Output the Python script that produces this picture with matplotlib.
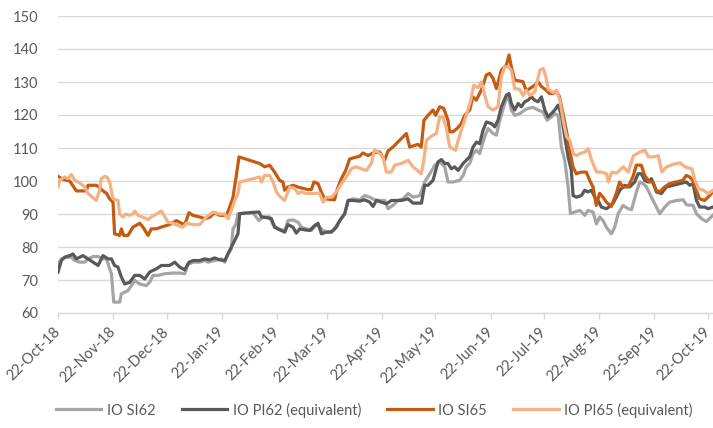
import matplotlib
matplotlib.use("Agg")
import matplotlib.pyplot as plt
import matplotlib.dates as mdates
import pandas as pd
import numpy as np

plt.rcParams['font.family'] = ['Lato', 'DejaVu Sans']

START = pd.Timestamp('2018-10-22')

# (days since 22-Oct-18, index value) per series
io_si62 = [(0,74.9),(1.9,76.4),(4.7,76.9),(7.5,76.9),(9.4,75.9),(12.2,75.4),(15.0,75.4),(16.9,76.4),(19.7,77.1),(22.5,77.1),
    (25.3,76.4),(27.2,76.4),(28.7,73.9),(30.0,71.9),(31.3,63.3),(32.8,63.3),(34.7,63.3),(35.6,65.8),(37.5,66.3),(39.3,66.8),
    (41.2,68.3),(43.1,69.8),(45.9,68.8),(49.6,68.3),(51.5,69.3),(53.4,71.4),(56.2,71.4),(59.9,71.9),(64.6,72.1),(68.4,72.1),
    (71.2,71.9),(73.0,74.7),(75.9,75.4),(79.6,75.4),(82.4,75.9),(84.3,75.4),(88.0,75.9),(91.8,76.4),(93.7,75.4),(95.5,77.9),
    (97.4,79.4),(98.3,85.5),(99.9,86.8),(101.1,90.1),(105.8,90.3),(109.6,90.3),(112.9,88.0),(115.2,89.1),(118.9,89.1),(120.8,86.8),
    (123.6,85.5),(127.4,85.0),(129.2,88.0),(132.0,88.2),(134.9,87.5),(136.7,86.0),(139.5,85.5),(142.4,85.0),(145.2,86.8),(147.0,86.0),
    (148.9,85.0),(151.7,84.5),(154.5,85.0),(156.4,86.5),(158.3,88.0),(161.1,90.1),(163.0,94.1),(165.8,94.6),(169.5,94.3),(172.3,95.6),
    (175.1,95.1),(177.9,94.3),(180.7,94.1),(183.6,94.1),(185.4,91.6),(188.2,92.6),(191.0,94.1),(193.9,94.6),(196.7,96.2),(199.5,95.1),
    (203.3,95.6),(206.0,99.7),(208.9,102.2),(211.7,104.8),(214.5,105.8),(217.3,104.3),(219.1,99.7),(222.0,99.7),(225.7,100.2),(227.6,101.7),
    (229.4,104.3),(231.3,105.3),(233.2,108.3),(235.1,109.3),(236.9,108.3),(239.7,113.4),(241.6,115.9),(244.4,114.4),(246.3,113.9),(248.2,118.4),
    (251.0,123.5),(252.9,126.0),(254.7,121.5),(256.6,119.9),(259.4,120.4),(262.2,121.5),(264.1,122.0),(266.9,122.3),(269.7,121.5),(272.5,120.9),
    (274.8,118.4),(277.2,119.4),(279.1,120.4),(281.0,119.9),(282.8,110.3),(284.7,106.3),(286.6,98.2),(287.9,90.1),(290.3,90.6),(293.2,91.1),
    (296.0,89.6),(297.8,91.1),(300.6,90.6),(302.5,87.0),(304.4,89.1),(306.2,88.0),(308.1,86.0),(310.9,84.0),(312.8,86.0),(314.7,90.1),
    (317.5,92.6),(320.3,91.6),(322.2,91.3),(325.0,96.7),(326.9,99.7),(328.8,99.2),(330.6,98.2),(333.4,95.1),(336.2,92.1),(338.1,90.1),
    (340.9,92.1),(343.7,93.6),(347.5,94.1),(351.2,94.3),(353.1,92.8),(356.8,92.6),(358.7,90.1),(361.5,88.6),(364.3,87.7),(367.9,89.6)]

io_pi62 = [(0,72.4),(1.9,75.9),(3.7,76.9),(6.6,77.4),(8.4,77.9),(10.3,76.4),(12.2,76.9),(14.0,77.4),(16.9,76.4),(19.7,75.4),
    (22.5,74.4),(25.3,77.4),(28.1,76.4),(30.0,76.4),(31.8,74.4),(33.7,73.9),(35.6,70.9),(37.5,68.8),(40.3,69.3),(43.1,71.4),
    (45.9,71.4),(48.7,70.3),(51.5,72.4),(55.3,73.4),(58.1,74.4),(62.7,74.4),(65.6,75.4),(68.4,73.9),(71.2,73.1),(73.6,75.4),
    (75.9,75.9),(79.6,75.9),(82.4,76.4),(85.2,76.1),(88.0,76.7),(90.8,76.1),(93.7,75.9),(95.5,77.9),(97.4,80.0),(99.3,82.0),
    (101.1,84.0),(102.1,90.1),(105.8,90.3),(109.6,90.5),(112.9,90.6),(114.3,89.1),(117.1,88.9),(119.9,88.6),(121.7,86.0),(124.6,85.2),
    (127.4,84.5),(129.2,86.8),(132.0,86.0),(133.9,84.2),(135.8,85.5),(138.6,85.2),(141.4,85.0),(144.2,86.5),(146.1,87.2),(148.0,84.0),
    (150.8,84.5),(153.6,84.5),(156.4,86.0),(158.3,88.0),(161.1,90.1),(163.0,94.1),(165.8,94.1),(169.5,93.9),(172.3,94.3),(175.1,93.6),
    (177.0,92.3),(178.9,94.1),(181.7,93.6),(184.5,93.1),(187.3,94.1),(190.1,94.1),(192.9,94.1),(196.7,94.6),(199.5,93.3),(204.2,93.3),
    (206.0,98.7),(207.9,98.7),(210.7,100.2),(213.5,105.8),(215.4,106.5),(217.3,105.3),(219.1,105.3),(221.0,103.7),(222.9,104.3),(224.8,103.2),
    (227.6,105.3),(229.4,106.3),(231.3,107.3),(233.2,110.3),(235.1,111.8),(236.9,111.3),(238.8,115.4),(240.7,117.9),(243.5,117.4),(245.4,116.4),
    (247.2,118.4),(249.1,122.5),(251.9,126.0),(253.4,126.5),(254.7,123.5),(256.6,121.5),(258.5,123.5),(260.3,122.5),(262.2,124.0),(264.1,124.5),
    (266.0,125.5),(267.8,124.5),(269.7,124.0),(271.6,125.5),(273.5,121.5),(275.3,119.4),(277.2,120.4),(279.1,121.5),(281.0,123.0),(282.8,119.9),
    (284.7,113.4),(286.6,107.3),(288.4,103.2),(289.4,95.6),(291.3,95.1),(294.1,95.6),(295.9,97.2),(297.8,96.7),(299.7,97.2),(301.6,95.1),
    (303.4,94.1),(305.3,92.1),(308.1,91.6),(310.0,92.3),(311.9,93.3),(313.7,95.1),(315.6,97.2),(318.4,98.7),(321.2,98.2),(324.0,99.7),
    (325.9,102.2),(327.8,102.2),(329.6,100.2),(331.5,99.7),(333.4,100.7),(336.2,96.7),(339.0,96.2),(341.8,98.2),(345.6,98.7),(349.3,99.2),
    (353.1,99.7),(354.9,98.7),(356.8,99.2),(358.7,94.1),(360.6,92.1),(363.4,92.1),(365.2,91.6),(367.9,92.1)]

io_si65 = [(0,101.4),(2.8,100.5),(6.6,100.0),(10.3,97.0),(15.9,97.0),(16.9,98.7),(21.5,98.7),(23.4,98.0),(25.3,97.0),(27.2,96.3),
    (29.0,94.6),(30.9,93.6),(31.8,84.0),(34.6,83.5),(35.6,85.5),(36.9,83.5),(39.3,83.5),(42.1,86.0),(45.9,87.2),(47.8,86.0),
    (50.6,83.5),(52.4,85.5),(55.2,85.5),(59.0,86.2),(62.7,86.8),(66.5,88.0),(69.3,87.2),(71.2,86.8),(73.6,90.4),(75.8,89.6),
    (79.6,89.1),(82.4,88.6),(85.2,89.0),(88.0,90.4),(90.8,89.6),(94.6,89.6),(96.4,92.0),(98.3,95.0),(100.2,101.7),(101.7,107.3),
    (113.3,105.3),(116.1,104.3),(118.9,104.8),(121.7,102.7),(124.5,100.2),(126.4,99.7),(127.3,97.2),(129.2,98.2),(132.0,98.7),(135.8,98.0),
    (140.4,97.4),(142.3,97.4),(143.8,99.7),(146.1,99.2),(147.9,96.7),(149.8,94.6),(155.4,94.3),(156.7,97.2),(159.2,100.7),(161.6,103.2),
    (163.9,106.7),(169.5,107.5),(171.3,108.5),(174.2,107.7),(177.0,108.5),(180.7,108.8),(183.5,106.3),(185.4,109.1),(188.2,110.3),(191.9,112.3),
    (195.7,114.4),(197.6,110.3),(202.2,111.1),(204.1,110.3),(205.6,118.4),(207.9,119.9),(210.7,121.5),(212.2,119.9),(214.4,122.5),(216.7,122.0),
    (219.1,118.4),(220.0,114.9),(221.9,114.9),(224.2,115.9),(226.6,117.4),(228.5,119.9),(231.3,121.5),(233.1,125.5),(235.0,124.5),(237.8,127.5),
    (240.6,132.1),(242.5,132.6),(244.4,131.1),(246.3,128.0),(249.1,133.6),(251.9,135.1),(253.4,138.2),(254.7,134.6),(256.6,130.6),(261.2,130.1),
    (263.1,127.3),(265.0,128.0),(267.8,129.0),(269.7,130.1),(271.5,128.7),(274.3,127.5),(276.2,126.5),(278.1,126.5),(280.0,127.3),(281.8,125.5),
    (283.7,120.4),(285.6,115.4),(287.5,109.3),(289.3,104.3),(291.2,102.2),(294.0,102.7),(296.8,102.7),(298.7,100.2),(300.6,98.2),(302.4,92.6),
    (304.3,96.3),(306.2,95.1),(308.1,93.6),(310.9,92.3),(313.7,96.3),(315.5,99.7),(317.4,98.2),(320.2,98.2),(323.0,101.2),(324.9,104.8),
    (327.7,104.8),(329.6,101.7),(332.4,99.7),(334.3,99.7),(336.1,97.2),(338.0,96.7),(340.8,98.2),(343.6,99.2),(347.4,99.7),(351.1,100.2),
    (353.0,101.7),(354.9,101.2),(356.7,100.2),(358.6,97.2),(360.5,94.6),(363.3,94.1),(366.1,95.6),(367.8,96.7)]

io_pi65 = [(0,98.2),(0.9,100.2),(3.7,101.2),(5.6,100.7),(7.5,102.0),(9.4,100.2),(12.2,99.4),(15.0,98.2),(16.9,96.2),(19.7,94.9),
    (21.5,94.1),(23.4,97.2),(24.3,100.7),(26.2,101.4),(27.5,101.2),(29.0,99.7),(30.9,94.6),(33.7,94.1),(34.7,90.0),(36.5,89.1),
    (38.0,90.0),(40.3,89.6),(42.1,90.0),(43.1,90.9),(45.0,89.6),(47.8,89.0),(50.6,88.3),(52.4,89.1),(55.3,90.0),(58.1,90.9),
    (59.9,89.3),(61.8,87.5),(64.6,87.2),(67.4,86.5),(70.2,86.0),(72.1,87.2),(75.9,86.8),(79.6,86.8),(83.3,89.1),(87.1,90.6),
    (90.8,90.0),(93.7,90.0),(95.5,88.6),(97.4,91.1),(99.3,94.1),(101.1,96.2),(102.1,99.7),(105.9,100.2),(109.6,100.7),(113.3,101.2),
    (114.3,99.7),(116.1,101.7),(118.9,101.7),(120.8,99.7),(122.7,96.7),(124.5,95.4),(127.3,94.1),(130.2,98.2),(133.0,97.7),(134.9,96.2),
    (136.7,96.7),(139.5,96.2),(142.4,96.2),(145.2,96.3),(147.0,96.2),(148.9,93.6),(150.8,95.1),(153.6,95.1),(156.4,96.7),(159.2,99.2),
    (162.0,101.2),(164.8,103.7),(167.6,104.3),(170.4,103.7),(173.3,103.2),(176.1,105.4),(177.9,109.5),(180.7,108.3),(182.6,107.3),(184.5,102.7),
    (187.3,102.7),(189.2,104.8),(192.9,105.3),(196.7,106.3),(199.4,104.3),(204.1,102.2),(205.5,106.3),(207.0,112.3),(209.8,113.6),(212.6,114.4),
    (214.4,119.4),(216.3,119.4),(218.2,115.9),(220.1,110.3),(223.4,109.3),(224.8,112.3),(226.6,115.4),(229.4,119.9),(231.7,124.0),(233.6,129.0),
    (236.0,128.3),(237.9,130.0),(239.8,125.9),(241.6,122.5),(244.4,121.5),(247.2,122.5),(249.1,131.6),(251.0,134.6),(252.9,134.6),(254.7,133.6),
    (256.6,128.0),(259.4,127.8),(261.3,125.9),(263.2,127.5),(265.1,125.9),(267.9,127.0),(270.7,133.6),(272.6,134.1),(274.1,131.6),(275.4,127.8),
    (278.2,126.8),(280.1,127.5),(282.0,124.5),(283.8,118.4),(285.7,113.4),(287.6,112.3),(289.5,108.3),(291.4,107.7),(293.2,108.3),(296.1,108.8),
    (297.9,109.8),(299.8,106.3),(302.6,102.7),(305.4,102.7),(308.2,102.2),(309.2,99.7),(311.1,102.7),(313.9,102.4),(317.6,104.3),(320.4,102.7),
    (323.3,107.7),(327.0,108.8),(329.8,109.3),(331.7,107.3),(334.5,107.3),(337.3,107.7),(339.2,102.7),(342.0,104.3),(345.8,105.1),(349.5,105.5),
    (352.3,104.3),(356.1,103.7),(357.9,100.2),(359.8,97.7),(362.6,97.2),(365.4,96.2),(368.0,97.2)]

series_names = ['IO SI62', 'IO PI62 (equivalent)', 'IO SI65', 'IO PI65 (equivalent)']
series_data = [io_si62, io_pi62, io_si65, io_pi65]
series_colors = ['#A5A5A5', '#595959', '#C55A11', '#F4B183']

# monthly ticks on the 22nd, 22-Oct-18 .. 22-Oct-19
tick_dates = pd.date_range('2018-10-01', '2019-10-01', freq='MS') + pd.Timedelta(days=21)

fig = plt.figure(figsize=(7.13, 4.28), dpi=100)
ax = fig.add_axes([58/713, 1 - 313/428, 1 - 58/713, (313 - 16)/428])

for name, data, color in zip(series_names, series_data, series_colors):
    d = np.array(data)
    x = START + pd.to_timedelta(d[:, 0], unit='D')
    ax.plot(x, d[:, 1], color=color, lw=2.3, label=name, solid_joinstyle='round')

ax.set_ylim(60, 150)
ax.set_yticks(np.arange(60, 151, 10))
ax.set_xlim(START, START + pd.Timedelta(days=368))
ax.set_xticks(tick_dates)
ax.xaxis.set_major_formatter(mdates.DateFormatter('%d-%b-%y'))

ax.grid(axis='y', color='#D9D9D9', lw=1)
ax.set_axisbelow(True)
for s in ['left', 'right', 'top']:
    ax.spines[s].set_visible(False)
ax.spines['bottom'].set_color('#D9D9D9')
ax.spines['bottom'].set_linewidth(1)
ax.tick_params(axis='y', length=0, pad=14, labelsize=10.5, labelcolor='#595959')
ax.tick_params(axis='x', length=4, width=1, color='#D9D9D9', labelsize=10.5, labelcolor='#595959', pad=8)
for lab in ax.get_xticklabels():
    lab.set_rotation(45)
    lab.set_ha('right')
    lab.set_va('center')
    lab.set_rotation_mode('anchor')

fig.legend(loc='center', bbox_to_anchor=(0.525, 0.042), ncol=4, frameon=False,
           fontsize=10.5, labelcolor='#595959', handlelength=3.1, handletextpad=0.4,
           columnspacing=1.8)

fig.savefig('out.png', dpi=100)
